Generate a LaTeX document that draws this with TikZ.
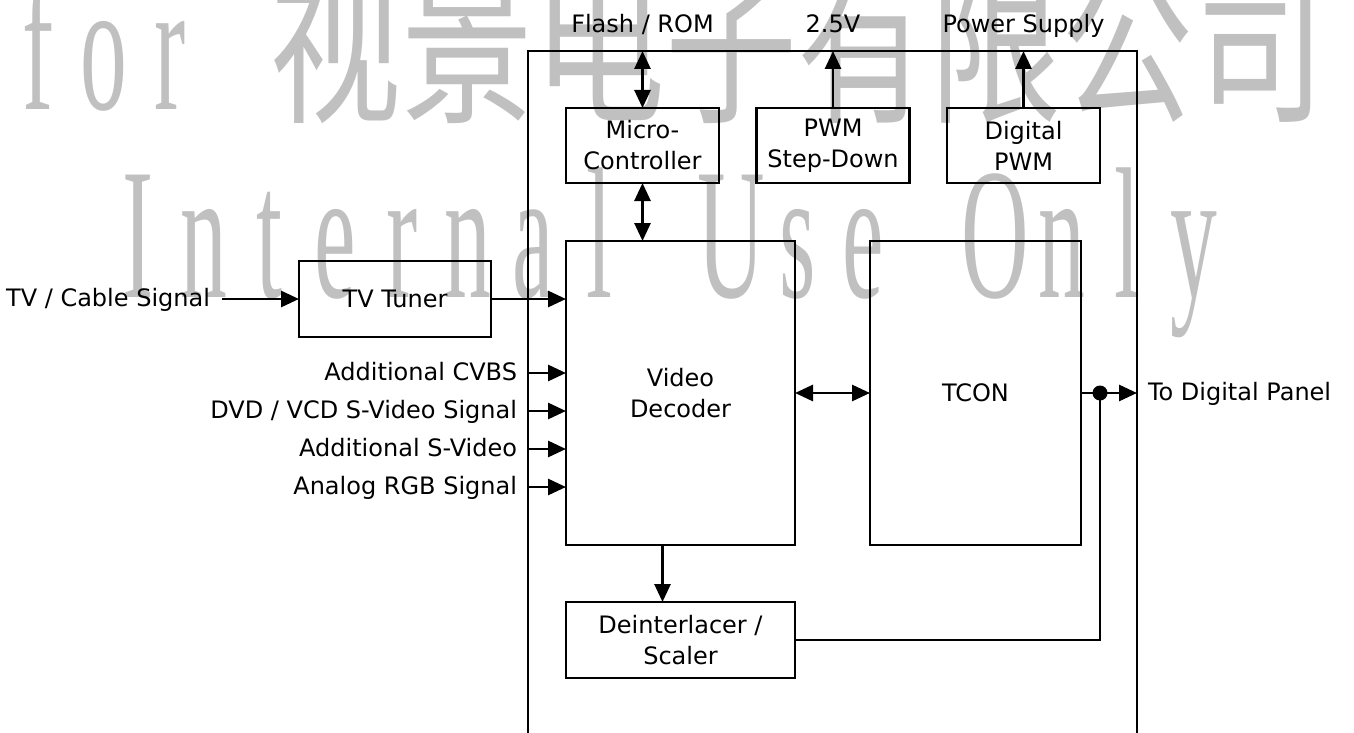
\documentclass[tikz,border=0pt]{standalone}
\usepackage{fontspec}
\usepackage{graphicx}
\setmainfont{DejaVu Sans}
\newfontfamily\wmcjk{Noto Sans CJK SC}
\newfontfamily\wmser{Liberation Serif}
\usetikzlibrary{arrows.meta}
\definecolor{wm}{RGB}{192,192,192}
\newcommand\wmc[1]{\makebox[132pt][c]{#1}}
\tikzset{
  lbl/.style={font=\fontsize{24}{31}\selectfont, inner sep=0pt, outer sep=0pt, text height=18pt, text depth=4pt},
  blk/.style={draw, line width=2.8pt, inner sep=0pt, outer sep=0pt, align=center, font=\fontsize{24}{31}\selectfont},
  wmtext/.style={anchor=base west, inner sep=0pt, text=wm},
  conn/.style={line width=2.8pt},
  arr/.style={conn, -{Triangle[length=18pt,width=16pt]}},
  arrb/.style={conn, {Triangle[length=18pt,width=16pt]}-{Triangle[length=18pt,width=16pt]}},
}
\begin{document}
\begin{tikzpicture}[x=1pt,y=-1pt]
\useasboundingbox (0,0) rectangle (1354,733);
% watermark
\node[wmtext] (wmfor) at (5,110) {\scalebox{0.5}[1]{\wmser\fontsize{187}{187}\selectfont\wmc{f}\wmc{o}\wmc{r}}};
\node[wmtext] (wmcn) at (269,110) {\scalebox{0.746}[1]{\wmcjk\fontsize{177}{177}\selectfont 视景电子有限公司}};
\node[wmtext] (wmuse) at (104.5,297) {\scalebox{0.5}[1]{\wmser\fontsize{187}{187}\selectfont\wmc{I}\wmc{n}\wmc{t}\wmc{e}\wmc{r}\wmc{n}\wmc{a}\wmc{l}\wmc{}\wmc{U}\wmc{s}\wmc{e}\wmc{}\wmc{O}\wmc{n}\wmc{l}\wmc{y}}};

% board outline (bottom lies beyond the page)
\node[draw, line width=2.8pt, inner sep=0pt, outer sep=0pt, minimum width=609pt, minimum height=720pt] (board) at (832.5,411) {};

% blocks
\node[blk, minimum width=153pt, minimum height=75pt] (mc) at (642.5,145.5) {Micro-\\Controller};
\node[blk, minimum width=153pt, minimum height=75pt] (pwm) at (833,145.5) {PWM\\Step-Down};
\node[blk, minimum width=153pt, minimum height=75pt] (dpwm) at (1023.5,145.5) {Digital\\PWM};
\node[blk, minimum width=229pt, minimum height=304pt] (vd) at (680.5,393) {Video\\Decoder};
\node[blk, minimum width=211pt, minimum height=304pt] (tcon) at (975.5,393) {TCON};
\node[blk, minimum width=229pt, minimum height=76pt] (deint) at (680.5,640) {Deinterlacer /\\Scaler};
\node[blk, minimum width=192pt, minimum height=76pt] (tuner) at (395,299) {TV Tuner};

% top labels
\node[lbl, anchor=base] (flash) at (642.5,33) {Flash / ROM};
\node[lbl, anchor=base] (v25) at (833,33) {2.5V};
\node[lbl, anchor=base] (psu) at (1023.5,33) {Power Supply};

% left labels
\node[lbl, anchor=east] (tvsig) at (210,299) {TV / Cable Signal};
\node[lbl, anchor=east] (in1) at (517,373) {Additional CVBS};
\node[lbl, anchor=east] (in2) at (517,411) {DVD / VCD S-Video Signal};
\node[lbl, anchor=east] (in3) at (517,449) {Additional S-Video};
\node[lbl, anchor=east] (in4) at (517,487) {Analog RGB Signal};

% right label
\node[lbl, anchor=west] (panel) at (1148,393) {To Digital Panel};

% connectors
\draw[arrb] (mc.north) -- (mc.north |- board.north);
\draw[arr] (pwm.north) -- (pwm.north |- board.north);
\draw[arr] (dpwm.north) -- (dpwm.north |- board.north);
\draw[arrb] (mc.south) -- (mc.south |- vd.north);

\draw[arr] ([xshift=12pt]tvsig.east) -- (tuner.west);
\draw[arr] (tuner.east) -- (tuner.east -| vd.west);
\draw[arr] (in1.east -| board.west) -- (in1.east -| vd.west);
\draw[arr] (in2.east -| board.west) -- (in2.east -| vd.west);
\draw[arr] (in3.east -| board.west) -- (in3.east -| vd.west);
\draw[arr] (in4.east -| board.west) -- (in4.east -| vd.west);

\draw[arrb] (vd.east) -- (tcon.west);
\draw[arr] ([xshift=-18pt]vd.south) -- ([xshift=-18pt]deint.north);

\coordinate (jn) at (1100,393);
\draw[arr] (tcon.east) -- (tcon.east -| board.east);
\draw[conn] (deint.east) -| (jn);
\fill (jn) circle (7.5pt);
\end{tikzpicture}
\end{document}
